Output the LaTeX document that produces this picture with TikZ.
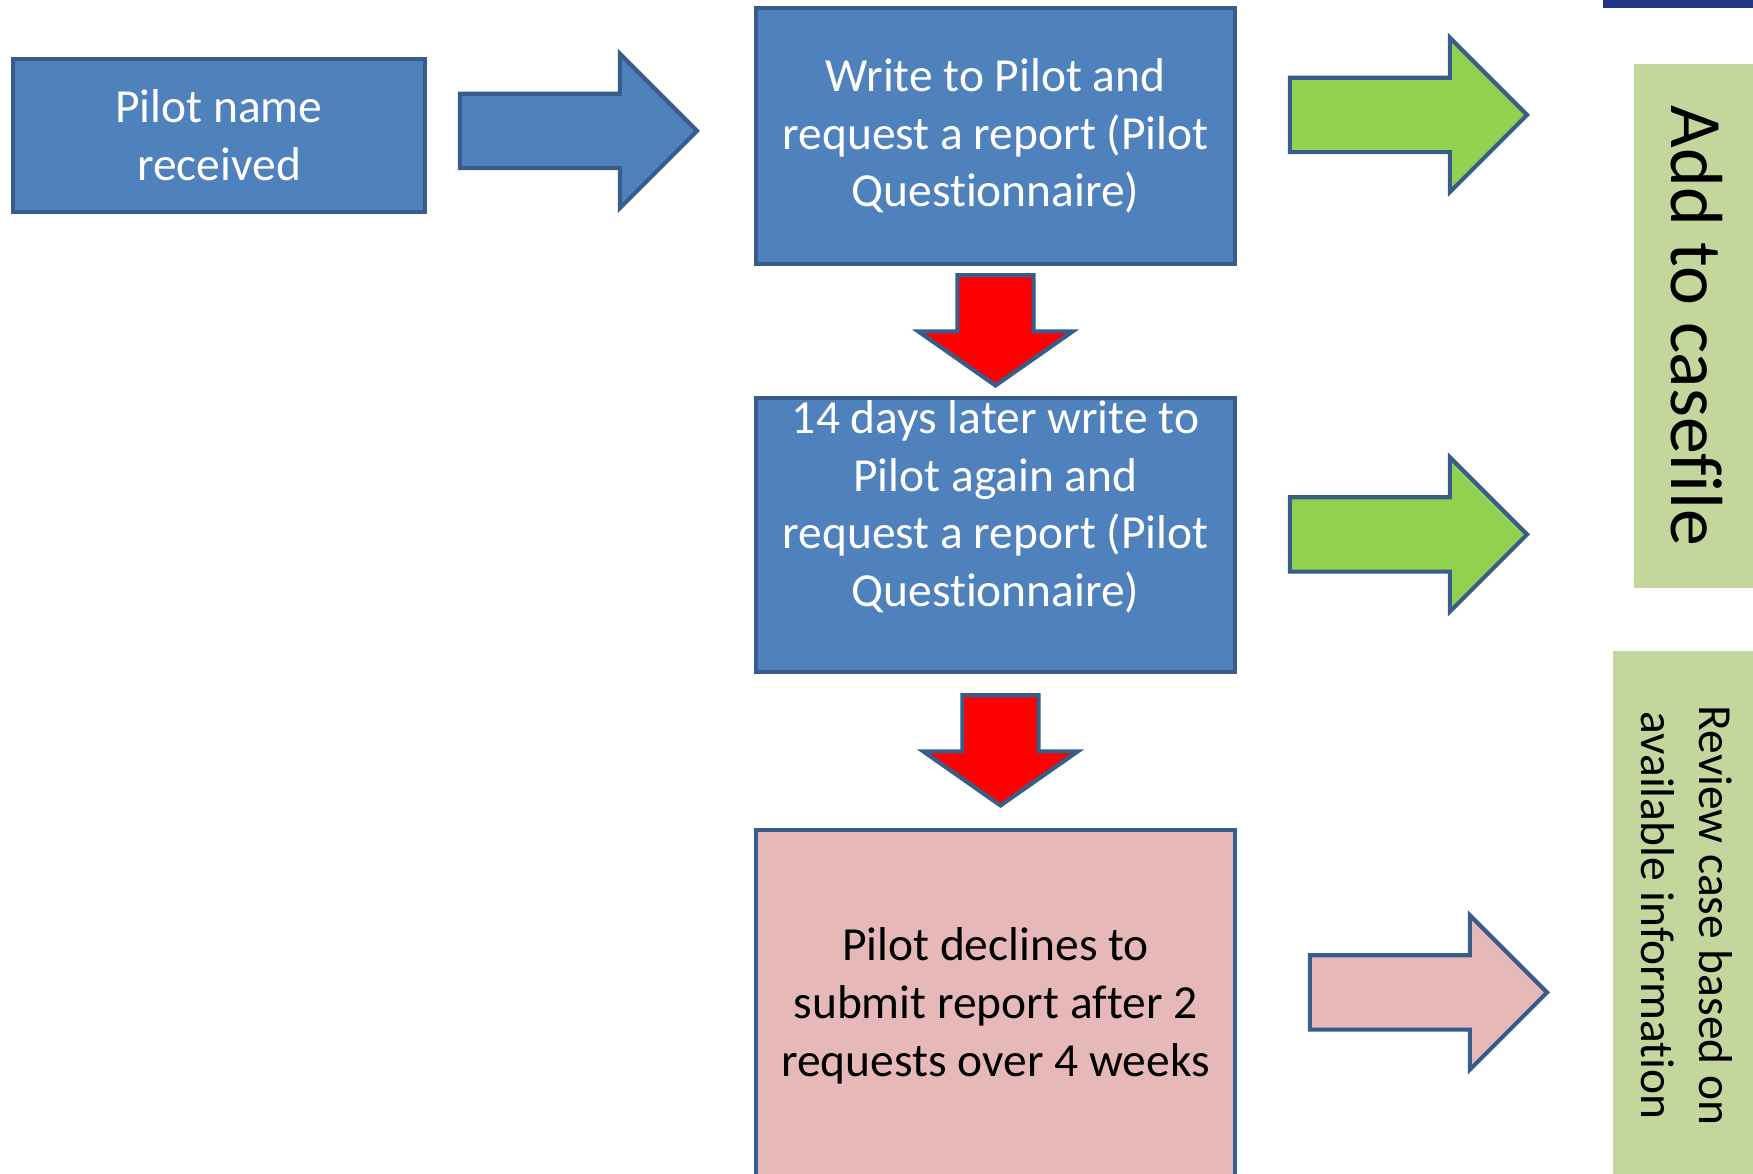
\documentclass[tikz,border=0pt]{standalone}
\usepackage{fontspec}
\setmainfont{Carlito}[Ligatures={NoCommon}, Contextuals={NoAlternate}]
\usetikzlibrary{shapes.arrows}

\definecolor{boxblue}{RGB}{79,129,189}
\definecolor{edgeblue}{RGB}{56,93,138}
\definecolor{arrowred}{RGB}{255,0,0}
\definecolor{arrowgreen}{RGB}{146,208,80}
\definecolor{declinepink}{RGB}{230,184,183}
\definecolor{sidegreen}{RGB}{195,214,155}
\definecolor{topnavy}{RGB}{31,55,130}

\begin{document}
\begin{tikzpicture}[
    x=0.01cm, y=-0.01cm,
    font=\fontsize{13.5}{16.4}\selectfont,
    stepbox/.style={rectangle, draw=edgeblue, line width=1.2pt, align=center, inner sep=0pt},
    bluebox/.style={stepbox, fill=boxblue, text=white},
    pinkbox/.style={stepbox, fill=declinepink, text=black},
    sidebox/.style={rectangle, fill=sidegreen, inner sep=0pt},
    sidetext/.style={rotate=-90, align=center, text=black},
    blockarrow/.style={single arrow, draw=edgeblue, line width=1.2pt, inner sep=0pt,
        anchor=tip, single arrow tip angle=90},
    rightarrow/.style={blockarrow, inner ysep=0.35cm, single arrow head extend=0.40cm,
        minimum height=2.37cm},
    downarrow/.style={blockarrow, rotate=-90, inner ysep=0.36cm,
        single arrow head extend=0.39cm, minimum height=1.1cm,
        single arrow tip angle=110, fill=arrowred}
]
    \clip (0,0) rectangle (1753,1174);

    % Steps
    \node[bluebox, minimum width=4.12cm, minimum height=1.53cm] (received) at (219,135.5)
        {Pilot name\\received};
    \node[bluebox, minimum width=4.79cm, minimum height=2.56cm] (firstreq) at (995.5,136)
        {Write to Pilot and\\request a report (Pilot\\Questionnaire)};
    \node[bluebox, minimum width=4.79cm, minimum height=2.74cm] (secondreq) at (995.5,535) {};
    \node[align=center, text=white, yshift=0.28cm] (secondtxt) at (secondreq.center)
        {14 days later write to\\Pilot again and\\request a report (Pilot\\Questionnaire)};
    \node[pinkbox, minimum width=4.79cm, minimum height=3.52cm] (declines) at (995.5,1006)
        {Pilot declines to\\submit report after 2\\requests over 4 weeks};

    % Outcomes
    \fill[topnavy] (1603,-5) rectangle (1760,8);
    \node[sidebox, minimum width=1.26cm, minimum height=5.24cm] (casefile) at (1697,326) {};
    \node[sidetext, font=\fontsize{21}{25}\selectfont] at (casefile.center) {Add to casefile};
    \node[sidebox, minimum width=1.47cm, minimum height=5.29cm] (review) at (1686.5,915.5) {};
    \node[sidetext] at (review.center) {Review case based on\\available information};

    % Block arrows
    \node[rightarrow, fill=boxblue] (toreq) at (700,131) {};
    \node[downarrow] (wait1) at (995.5,388) {};
    \node[downarrow] (wait2) at (1000.5,808) {};
    \node[rightarrow, fill=arrowgreen] (tofile1) at (1530,115) {};
    \node[rightarrow, fill=arrowgreen] (tofile2) at (1530,534.5) {};
    \node[rightarrow, fill=declinepink] (toreview) at (1550,992.5) {};

\end{tikzpicture}
\end{document}
